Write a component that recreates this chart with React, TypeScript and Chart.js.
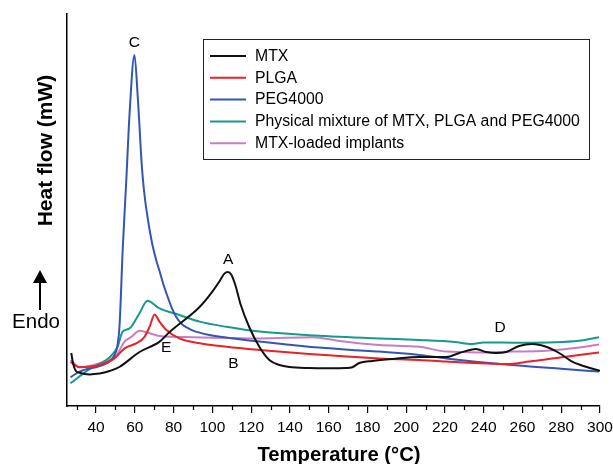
import React, { useEffect, useRef } from 'react';
import { Chart, registerables } from 'chart.js';

Chart.register(...registerables);

// ---- Data (temperature in °C, heat flow in arbitrary units, endo up) ----
const seriesLabels = [
  'MTX',
  'PLGA',
  'PEG4000',
  'Physical mixture of MTX, PLGA and PEG4000',
  'MTX-loaded implants',
];
const seriesColors = ['#111111', '#ec2027', '#3356b3', '#179a8b', '#c97cc2'];

const mtxT = [27.2, 28.2, 29.5, 31.5, 36.6, 41.8, 47, 52, 62.4, 72.8, 77.9, 93.4, 100, 103.7, 106.2, 108, 109.8, 112, 114.5, 119, 124.3, 129.4, 134.6, 139.7, 150, 160, 169, 172.2, 175.8, 182.5, 192.8, 206.8, 220.7, 227.4, 236, 241.3, 246.4, 251.6, 258.3, 265, 272.2, 278.9, 285.6, 292.8, 300];
const mtxHF = [13.25, 10.5, 8.8, 8.3, 7.9, 8.1, 8.75, 9.75, 13.5, 16.1, 18.5, 24.75, 28.6, 31.2, 33.1, 33.5, 32.8, 30, 25.5, 19.75, 14.75, 11.5, 10.25, 9.75, 9.5, 9.45, 9.5, 9.7, 10.75, 11.25, 11.75, 12.25, 12.25, 13.25, 14.25, 13.5, 13.25, 13.5, 15, 15.5, 14.8, 13.25, 11.1, 9.8, 8.8];

const plgaT = [26.8, 31.5, 41.8, 49.5, 54.7, 60.9, 65, 67.6, 70.2, 72.7, 76.3, 83, 93.4, 107.3, 124.3, 150, 186, 206.8, 220.7, 251.6, 263.5, 280.5, 299.5];
const plgaHF = [11, 9.7, 10.25, 11.9, 14.4, 15.7, 17.3, 19.8, 22.9, 21.1, 19, 16.9, 15.7, 14.8, 14, 13, 11.9, 11.5, 11.1, 10.5, 11.1, 12.2, 13.4];

const pegT = [26.8, 31.5, 41.8, 47, 49.5, 51, 52.1, 53.8, 55.6, 57.3, 59.8, 61.5, 62.4, 63.2, 64.1, 65.3, 66.7, 68, 69.3, 71, 72.7, 75, 77, 79, 81.3, 84, 86.5, 89.7, 98.5, 114, 124.3, 138.2, 155, 172, 186, 206.8, 220.7, 254.7, 280, 299.5];
const pegHF = [7.2, 8.6, 10, 11.1, 12.75, 15, 20, 39.75, 56.5, 73.25, 87.75, 77.3, 70, 63, 57, 51.5, 46.8, 43, 39.8, 36.5, 33.8, 30, 27.2, 24.6, 22.3, 20.6, 19.7, 18.9, 17.75, 16.7, 16.1, 15.4, 14.6, 14, 13.6, 12.75, 11.9, 10.25, 9.3, 8.6];

const mixT = [26.8, 36.6, 47, 51.1, 53.7, 57.3, 62.4, 66.5, 72.7, 83, 93.4, 107.3, 124.3, 150, 186, 206.8, 225, 234, 240, 260, 289.2, 299.5];
const mixHF = [5.7, 9.2, 12.2, 14.8, 18.6, 19.4, 23.2, 26.3, 24.4, 22.75, 21.1, 19.8, 18.6, 17.7, 16.9, 16.5, 16, 15.5, 15.9, 15.8, 16.3, 17.2];

const implT = [26.8, 31.5, 41.8, 50.6, 54.7, 58.3, 62.4, 67.6, 72.7, 89.7, 124.3, 151.6, 165.5, 186, 206.8, 220.7, 237.7, 254.7, 272.2, 289.2, 299.5];
const implHF = [11.5, 9.7, 10.7, 12.75, 16.1, 17.3, 18.8, 18.2, 17.5, 17.2, 16.9, 17.2, 16.25, 15.25, 14.8, 13.6, 13.4, 13.6, 13.8, 14.6, 15.4];

const seriesT = [mtxT, plgaT, pegT, mixT, implT];
const seriesHF = [mtxHF, plgaHF, pegHF, mixHF, implHF];

// peak letters
const peakLetters = ['A', 'B', 'C', 'D', 'E'];
const peakT = [108.2, 110.8, 59.8, 248.5, 76.2];
const peakHF = [36.5, 10.6, 90.9, 19.6, 14.5];

const xTitle = 'Temperature (°C)';
const yTitle = 'Heat flow (mW)';
const endoText = 'Endo';

const FONT = "'Liberation Sans', Arial, Helvetica, sans-serif";

const decorPlugin = {
  id: 'decor',
  afterDraw(chart: any) {
    const { ctx, chartArea, scales } = chart;
    const xs = scales.x;
    const ys = scales.y;
    ctx.save();

    // minor ticks (odd multiples of 10)
    ctx.strokeStyle = '#000';
    ctx.lineWidth = 1.2;
    xs.ticks.forEach((t: any) => {
      if (t.value % 20 !== 0) {
        const px = Math.round(xs.getPixelForValue(t.value)) + 0.5;
        ctx.beginPath();
        ctx.moveTo(px, chartArea.bottom);
        ctx.lineTo(px, chartArea.bottom + 4);
        ctx.stroke();
      }
    });

    // peak letters
    ctx.fillStyle = '#000';
    ctx.font = `15.5px ${FONT}`;
    ctx.textAlign = 'center';
    ctx.textBaseline = 'middle';
    peakLetters.forEach((l, i) => {
      ctx.fillText(l, xs.getPixelForValue(peakT[i]), ys.getPixelForValue(peakHF[i]));
    });

    // legend box
    const bx = chartArea.left + 136;
    const by = chartArea.top + 25;
    const bw = 386;
    const bh = 120;
    ctx.strokeStyle = '#222';
    ctx.lineWidth = 1;
    ctx.strokeRect(bx + 0.5, by + 0.5, bw, bh);
    ctx.font = `15.8px ${FONT}`;
    ctx.textAlign = 'left';
    ctx.textBaseline = 'middle';
    chart.data.datasets.forEach((ds: any, i: number) => {
      const ry = by + 17 + i * 21.8;
      ctx.strokeStyle = ds.borderColor;
      ctx.lineWidth = 2;
      ctx.beginPath();
      ctx.moveTo(bx + 7, ry);
      ctx.lineTo(bx + 43, ry);
      ctx.stroke();
      ctx.fillStyle = '#000';
      ctx.fillText(ds.label, bx + 52, ry + 0.5);
    });

    // axis titles
    ctx.fillStyle = '#000';
    ctx.font = `bold 20.3px ${FONT}`;
    ctx.textAlign = 'center';
    ctx.textBaseline = 'alphabetic';
    ctx.fillText(xTitle, (chartArea.left + chartArea.right) / 2 + 5.5, 461);

    ctx.save();
    ctx.translate(chartArea.left - 15, 150.5);
    ctx.rotate(-Math.PI / 2);
    ctx.font = `bold 21px ${FONT}`;
    ctx.fillText(yTitle, 0, 0);
    ctx.restore();

    // Endo arrow
    const ax = chartArea.left - 27;
    ctx.strokeStyle = '#000';
    ctx.lineWidth = 2;
    ctx.beginPath();
    ctx.moveTo(ax, 281);
    ctx.lineTo(ax, 310);
    ctx.stroke();
    ctx.beginPath();
    ctx.moveTo(ax - 7, 283);
    ctx.lineTo(ax + 7, 283);
    ctx.lineTo(ax, 270);
    ctx.closePath();
    ctx.fill();
    ctx.font = `20.5px ${FONT}`;
    ctx.textAlign = 'center';
    ctx.fillText(endoText, ax - 4, 328);

    ctx.restore();
  },
};

export default function App() {
  const ref = useRef<HTMLCanvasElement | null>(null);

  useEffect(() => {
    document.body.style.margin = '0';
    if (!ref.current) return;
    Chart.defaults.font.family = FONT;
    Chart.defaults.color = '#000';

    const datasets = seriesLabels.map((label, i) => ({
      label,
      data: seriesT[i].map((t, j) => ({ x: t, y: seriesHF[i][j] })),
      borderColor: seriesColors[i],
      backgroundColor: seriesColors[i],
      borderWidth: 2,
      pointRadius: 0,
      cubicInterpolationMode: 'monotone' as const,
      fill: false,
    }));

    const chart = new Chart(ref.current, {
      type: 'line',
      data: { datasets },
      options: {
        animation: false,
        responsive: false,
        layout: { padding: { top: 14, right: 13, left: 0, bottom: 0 } },
        plugins: {
          legend: { display: false },
          tooltip: { enabled: false },
        },
        scales: {
          x: {
            type: 'linear',
            min: 25,
            max: 300,
            afterBuildTicks: (scale: any) => {
              const out: any[] = [];
              for (let v = 30; v <= 300; v += 10) out.push({ value: v });
              scale.ticks = out;
            },
            afterFit: (scale: any) => {
              scale.height = 58;
              scale.paddingLeft = 0;
              scale.paddingRight = 0;
            },
            ticks: {
              autoSkip: false,
              maxRotation: 0,
              padding: 5,
              font: { size: 15.5, family: FONT },
              color: '#000',
              callback: (v: any) => (Number(v) % 20 === 0 ? String(v) : ''),
            },
            grid: {
              display: true,
              drawOnChartArea: false,
              drawTicks: true,
              tickLength: 7,
              lineWidth: 1.2,
              color: (c: any) => (c.tick && c.tick.value % 20 === 0 ? '#000' : 'rgba(0,0,0,0)'),
            },
            border: { display: true, color: '#000', width: 1.5 },
          },
          y: {
            type: 'linear',
            min: 0,
            max: 98,
            afterFit: (scale: any) => {
              scale.width = 67;
              scale.paddingTop = 0;
              scale.paddingBottom = 0;
            },
            ticks: { display: false },
            grid: { display: false, drawTicks: false },
            border: { display: true, color: '#000', width: 1.5 },
          },
        },
      },
      plugins: [decorPlugin],
    });
    return () => chart.destroy();
  }, []);

  return (
    <div style={{ width: 613, height: 464 }}>
      <canvas ref={ref} width={613} height={464} style={{ display: 'block' }} />
    </div>
  );
}
